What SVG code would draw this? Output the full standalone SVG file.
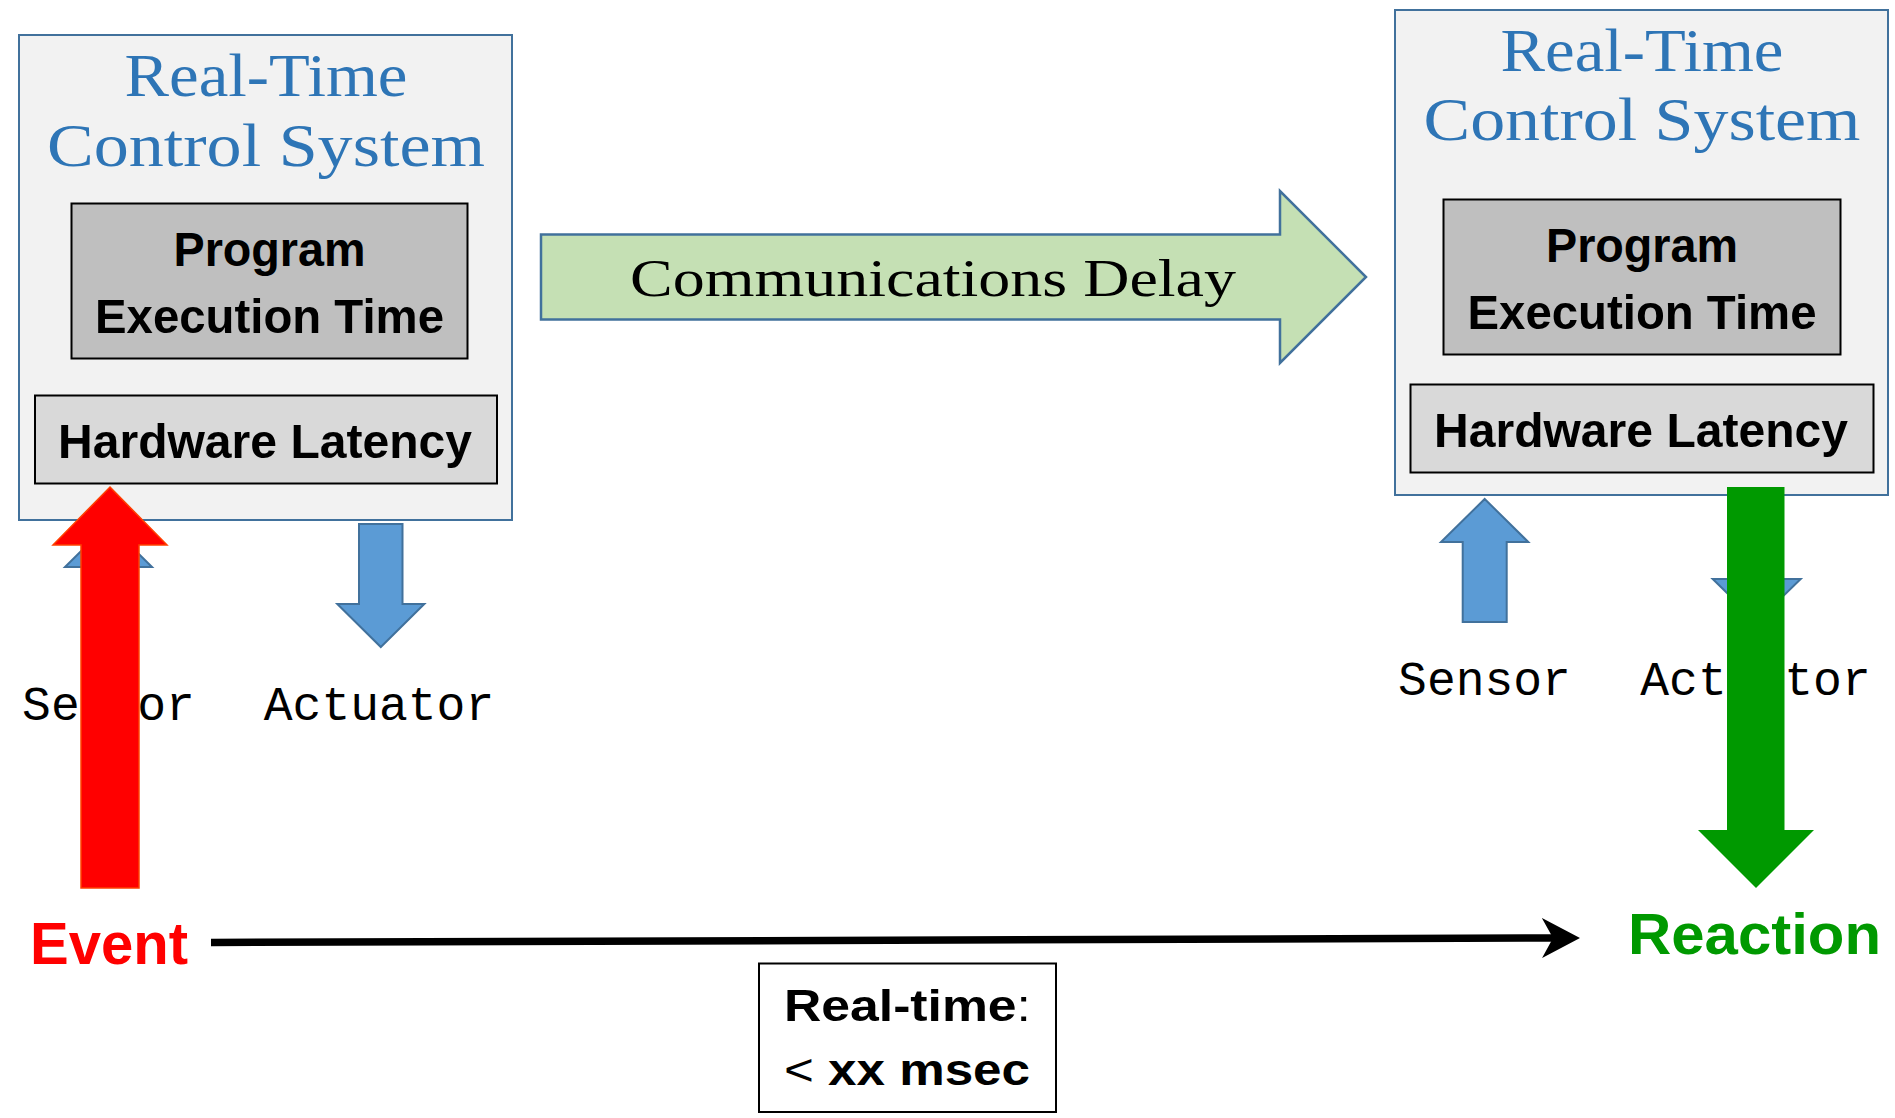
<svg xmlns="http://www.w3.org/2000/svg" width="1895" height="1118" viewBox="0 0 1895 1118">
  <style>
    .sys { fill: #F2F2F2; stroke: #41719C; stroke-width: 2; }
    .title { font-family: "Liberation Serif", "Times New Roman", serif; font-size: 62px; fill: #2E75B6; text-anchor: middle; }
    .prog { fill: #BFBFBF; stroke: #000; stroke-width: 2; }
    .hw { fill: #D9D9D9; stroke: #000; stroke-width: 2; }
    .bold { font-family: "Liberation Sans", Arial, sans-serif; font-weight: bold; font-size: 49px; fill: #000; text-anchor: middle; }
    .mono { font-family: "Liberation Mono", "Courier New", monospace; font-size: 48px; fill: #000; text-anchor: middle; }
    .blue { fill: #5B9BD5; stroke: #41719C; stroke-width: 2; stroke-linejoin: miter; }
    .comm { fill: #C5E0B4; stroke: #41719C; stroke-width: 2.5; }
    .commtext { font-family: "Liberation Serif", "Times New Roman", serif; font-size: 53px; fill: #000; text-anchor: middle; }
    .big { font-family: "Liberation Sans", Arial, sans-serif; font-weight: bold; }
  </style>
  <defs>
    <marker id="head" markerUnits="userSpaceOnUse" viewBox="0 0 38 40" refX="11" refY="20" markerWidth="38" markerHeight="40" orient="auto">
      <path d="M0,0 L38,20 L0,40 L11,20 Z" fill="#000"/>
    </marker>
  </defs>

  <rect width="1895" height="1118" fill="#FFFFFF"/>

  <!-- left control system -->
  <g id="system-left">
    <rect class="sys" x="19" y="35" width="493" height="485"/>
    <text class="title" x="266" y="96" textLength="283" lengthAdjust="spacingAndGlyphs">Real-Time</text>
    <text class="title" x="266" y="166" textLength="438" lengthAdjust="spacingAndGlyphs">Control System</text>
    <g id="exec-left">
      <rect class="prog" x="71.5" y="203.5" width="396" height="155"/>
      <text class="bold" x="269.5" y="266" textLength="192" lengthAdjust="spacingAndGlyphs">Program</text>
      <text class="bold" x="269.5" y="333" textLength="349" lengthAdjust="spacingAndGlyphs">Execution Time</text>
    </g>
    <g id="hw-left">
      <rect class="hw" x="35" y="395.5" width="462" height="88"/>
      <text class="bold" x="265" y="457.5" textLength="414" lengthAdjust="spacingAndGlyphs">Hardware Latency</text>
    </g>
  </g>

  <!-- right control system -->
  <g id="system-right">
    <rect class="sys" x="1395" y="10" width="493" height="485"/>
    <text class="title" x="1642" y="71" textLength="283" lengthAdjust="spacingAndGlyphs">Real-Time</text>
    <text class="title" x="1642" y="140" textLength="437" lengthAdjust="spacingAndGlyphs">Control System</text>
    <g id="exec-right">
      <rect class="prog" x="1443.5" y="199.5" width="397" height="155"/>
      <text class="bold" x="1642" y="262" textLength="192" lengthAdjust="spacingAndGlyphs">Program</text>
      <text class="bold" x="1642" y="328.5" textLength="349" lengthAdjust="spacingAndGlyphs">Execution Time</text>
    </g>
    <g id="hw-right">
      <rect class="hw" x="1410.5" y="384.5" width="463" height="88"/>
      <text class="bold" x="1641" y="447" textLength="414" lengthAdjust="spacingAndGlyphs">Hardware Latency</text>
    </g>
  </g>

  <!-- sensor / actuator interface arrows -->
  <g id="io-arrows">
    <path class="blue" d="M108.5,524 L152,567 L130.5,567 L130.5,647 L86.5,647 L86.5,567 L65,567 Z"/>
    <path class="blue" d="M359,524 L402.5,524 L402.5,604 L424.3,604 L380.8,647 L337.3,604 L359,604 Z"/>
    <path class="blue" d="M1484.7,499 L1528.3,542 L1506.7,542 L1506.7,622 L1462.7,622 L1462.7,542 L1441,542 Z"/>
    <path class="blue" d="M1734.7,499 L1778.7,499 L1778.7,579 L1800.7,579 L1756.7,622 L1712.7,579 L1734.7,579 Z"/>
  </g>

  <!-- device labels -->
  <g id="sensor-left"><text class="mono" x="108.5" y="720">Sensor</text></g>
  <g id="actuator-left"><text class="mono" x="379" y="720">Actuator</text></g>
  <g id="sensor-right"><text class="mono" x="1484.5" y="695">Sensor</text></g>
  <g id="actuator-right"><text class="mono" x="1755.5" y="695">Actuator</text></g>

  <g id="connectors">
    <!-- link between the two systems -->
    <path class="comm" d="M541,234.5 L1280,234.5 L1280,191 L1366,277 L1280,363 L1280,319.5 L541,319.5 Z"/>
    <text class="commtext" x="933" y="295.5" textLength="606" lengthAdjust="spacingAndGlyphs">Communications Delay</text>
    <!-- event in, reaction out -->
    <path d="M110,487 L167,545 L139,545 L139,888 L81,888 L81,545 L53,545 Z" fill="#FF0000" stroke="#FF4000" stroke-width="1.5"/>
    <path d="M1756,888 L1814,830 L1784.5,830 L1784.5,487 L1727,487 L1727,830 L1698,830 Z" fill="#009900"/>
    <!-- time line -->
    <path d="M211,942.5 L1553,938" stroke="#000" stroke-width="7.5" fill="none" marker-end="url(#head)"/>
  </g>

  <g id="event">
    <text class="big" x="30" y="964" font-size="59" fill="#FF0000" textLength="158" lengthAdjust="spacingAndGlyphs">Event</text>
  </g>
  <g id="reaction">
    <text class="big" x="1628" y="954" font-size="57" fill="#009900" textLength="253" lengthAdjust="spacingAndGlyphs">Reaction</text>
  </g>

  <g id="deadline">
    <rect x="759" y="963.5" width="297" height="148.5" fill="#FFFFFF" stroke="#000" stroke-width="2"/>
    <text class="big" x="784" y="1021" font-size="45" textLength="247" lengthAdjust="spacingAndGlyphs">Real-time<tspan font-weight="normal">:</tspan></text>
    <text class="big" x="784" y="1085" font-size="45" textLength="246" lengthAdjust="spacingAndGlyphs"><tspan font-weight="normal">&lt;</tspan> xx msec</text>
  </g>
</svg>
